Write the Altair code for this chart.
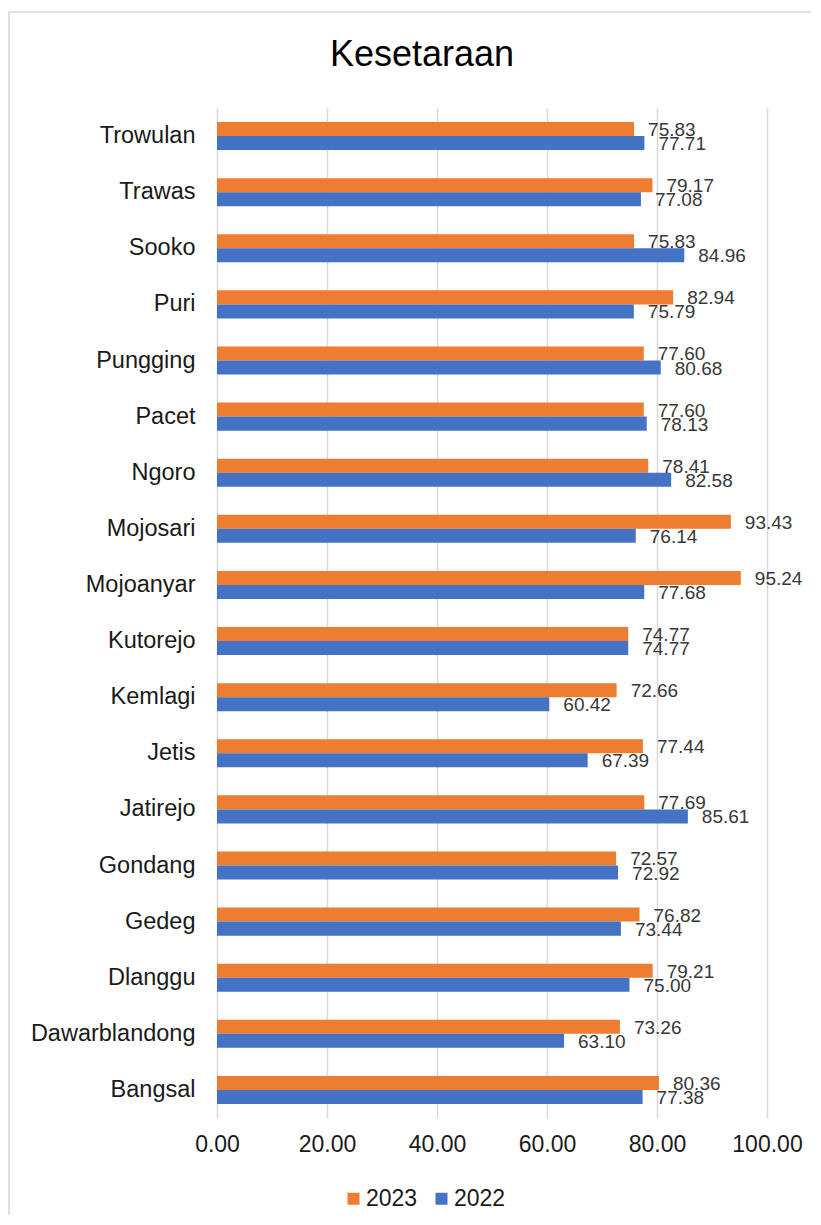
import altair as alt
import pandas as pd

categories = ["Trowulan", "Trawas", "Sooko", "Puri", "Pungging", "Pacet", "Ngoro ",
              "Mojosari", "Mojoanyar", "Kutorejo", "Kemlagi", "Jetis", "Jatirejo",
              "Gondang", "Gedeg", "Dlanggu", "Dawarblandong", "Bangsal"]
v2023 = [75.83, 79.17, 75.83, 82.94, 77.60, 77.60, 78.41, 93.43, 95.24, 74.77,
         72.66, 77.44, 77.69, 72.57, 76.82, 79.21, 73.26, 80.36]
v2022 = [77.71, 77.08, 84.96, 75.79, 80.68, 78.13, 82.58, 76.14, 77.68, 74.77,
         60.42, 67.39, 85.61, 72.92, 73.44, 75.00, 63.10, 77.38]
series = ["2023", "2022"]
colors = ["#ED7D31", "#4472C4"]
x_ticks = [0, 20, 40, 60, 80, 100]

rows = []
for c, a, b in zip(categories, v2023, v2022):
    rows.append({"Kecamatan": c, "Tahun": "2023", "Nilai": a})
    rows.append({"Kecamatan": c, "Tahun": "2022", "Nilai": b})
df = pd.DataFrame(rows)

FONT = "Liberation Sans"

base = alt.Chart(df).encode(
    y=alt.Y("Kecamatan:N", sort=categories,
            scale=alt.Scale(paddingInner=0.5, paddingOuter=0.25),
            axis=alt.Axis(title=None, ticks=False, domain=False, labelFontSize=23.5,
                          labelPadding=22, labelColor="#1a1a1a", labelFont=FONT)),
    yOffset=alt.YOffset("Tahun:N", sort=series),
)

bars = base.mark_bar().encode(
    x=alt.X("Nilai:Q", scale=alt.Scale(domain=[0, 100], nice=False),
            axis=alt.Axis(title=None, values=x_ticks, format=".2f", ticks=False,
                          domain=False, labelFontSize=23, labelPadding=15,
                          labelFlush=False, labelColor="#1a1a1a", labelFont=FONT,
                          gridColor="#d9d9d9", gridWidth=1.5)),
    color=alt.Color("Tahun:N", sort=series,
                    scale=alt.Scale(domain=series, range=colors),
                    legend=alt.Legend(title=None, orient="none", legendX=125, legendY=1079,
                                      direction="horizontal", symbolType="square",
                                      symbolSize=144, labelFontSize=23, labelFont=FONT,
                                      labelColor="#1a1a1a", columnPadding=12,
                                      labelOffset=1, symbolStrokeWidth=0)),
)

labels = base.mark_text(align="left", baseline="middle", dx=14, dy=1, fontSize=19,
                        font=FONT, color="#383838").encode(
    x=alt.X("Nilai:Q"),
    text=alt.Text("Nilai:Q", format=".2f"),
)

frame = alt.Chart(pd.DataFrame({"a": [0]})).mark_rect(
    fill="transparent", stroke="#d6d6d6", strokeWidth=1.5, clip=False
).encode(
    x=alt.value(-208), x2=alt.value(620), y=alt.value(-96), y2=alt.value(1200)
)

chart = alt.layer(frame, bars, labels).properties(
    width=550, height=1010,
    title=alt.Title("Kesetaraan", fontSize=36, font=FONT, fontWeight="normal",
                    color="#000000", offset=0, dy=80, dx=-70, baseline="middle",
                    anchor="middle"),
    autosize=alt.AutoSizeParams(type="none"),
    padding={"left": 209, "top": 100, "right": 44, "bottom": 97},
).configure_view(stroke=None).configure_axisY(grid=False)

chart.save("out.html", embed_options={"renderer": "svg", "actions": False})
